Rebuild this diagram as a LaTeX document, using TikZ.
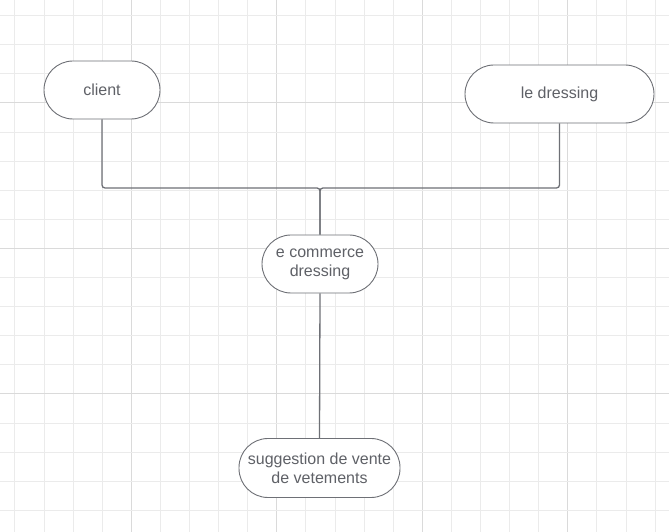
\documentclass[tikz,border=0pt]{standalone}
\usepackage{fontspec}
\setmainfont{Liberation Sans}
\usetikzlibrary{calc}

\definecolor{gridlight}{HTML}{EBEBEB}
\definecolor{griddark}{HTML}{DADADA}
\definecolor{linegray}{HTML}{6E7076}
\definecolor{textgray}{HTML}{5F6167}

\begin{document}
\begin{tikzpicture}[
    x=1pt, y=1pt,
    gridline/.style={draw=gridlight, line width=1pt},
    gridmajor/.style={draw=griddark, line width=1pt},
    pill/.style={draw=linegray, line width=0.9pt, fill=white, rectangle, rounded corners=29pt,
                 minimum height=58pt, inner sep=0pt, align=center, text=textgray,
                 font=\fontsize{16}{19}\selectfont},
    link/.style={draw=linegray, line width=1.3pt, rounded corners=3pt}
]

\useasboundingbox (0,0) rectangle (669,532);
\fill[white] (0,0) rectangle (669,532);

% Draw the background grid using loops
\foreach \i in {-4,...,18} {
    \pgfmathsetmacro{\gx}{131.3+\i*29.1}
    \pgfmathtruncatemacro{\m}{mod(\i+20,5)}
    \ifnum\m=0
        \draw[gridmajor] (\gx,0) -- (\gx,532);
    \else
        \draw[gridline] (\gx,0) -- (\gx,532);
    \fi
}
\foreach \j in {-4,...,13} {
    \pgfmathsetmacro{\gy}{138+\j*29.1}
    \pgfmathtruncatemacro{\m}{mod(\j+20,5)}
    \ifnum\m=0
        \draw[gridmajor] (0,\gy) -- (669,\gy);
    \else
        \draw[gridline] (0,\gy) -- (669,\gy);
    \fi
}

% Nodes
\node[pill, minimum width=116pt] (client) at (102,442) {client};
\node[pill, minimum width=189pt] (dressing) at (559.5,438) {le dressing};
\node[pill, minimum width=116pt] (ecommerce) at (320,268) {e commerce\\dressing};
\node[pill, minimum width=161pt, minimum height=59pt] (suggestion) at (319.5,64) {suggestion de vente\\de vetements};

% Junction point above the e commerce node
\coordinate (junction) at (320,344);

% Connectors
\draw[link] (client.south) -- (client.south |- junction) -- (junction) -- (ecommerce.north);
\draw[link] (dressing.south) -- (dressing.south |- junction) -- (junction) -- (ecommerce.north);
\draw[link] (ecommerce.south) -- (suggestion.north);

\end{tikzpicture}
\end{document}
